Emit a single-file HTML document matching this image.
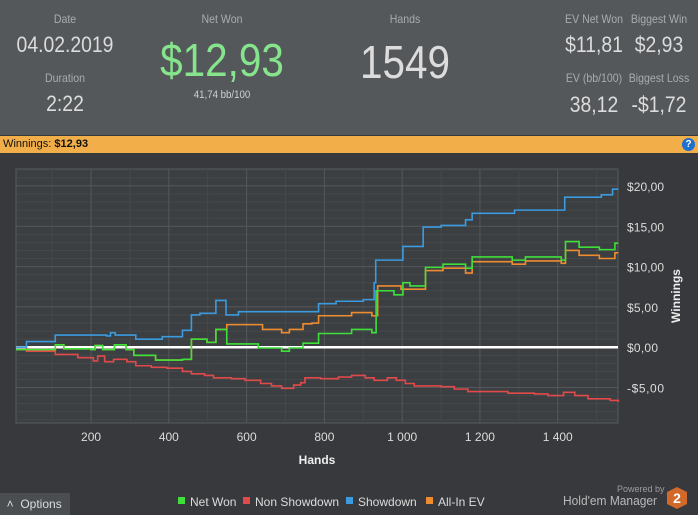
<!DOCTYPE html>
<html><head><meta charset="utf-8">
<style>
body{margin:0;width:698px;height:515px;overflow:hidden;background:#37393c;font-family:"Liberation Sans",sans-serif;position:relative}
.h{position:absolute;transform:translateX(-50%) scaleX(0.88);white-space:nowrap;text-align:center}
.lab{color:#a9abad;font-size:12px}
.val{color:#dcdcdc;font-size:22px}
</style></head><body>
<div style="position:absolute;left:0;top:0;width:698px;height:135px;background:#55585b"></div>
<div class="h lab" style="left:65px;top:12px">Date</div>
<div class="h val" style="left:65px;top:32px">04.02.2019</div>
<div class="h lab" style="left:65px;top:71px">Duration</div>
<div class="h val" style="left:65px;top:91px">2:22</div>
<div class="h lab" style="left:222px;top:12px">Net Won</div>
<div class="h" style="left:222px;top:33px;color:#86e48c;font-size:46px">$12,93</div>
<div class="h" style="left:222px;top:89px;color:#cfd0d1;font-size:11px">41,74 bb/100</div>
<div class="h lab" style="left:405px;top:12px">Hands</div>
<div class="h" style="left:405px;top:35px;color:#dcdcdc;font-size:46px">1549</div>
<div class="h lab" style="left:594px;top:12px">EV Net Won</div>
<div class="h val" style="left:594px;top:32px">$11,81</div>
<div class="h lab" style="left:659px;top:12px">Biggest Win</div>
<div class="h val" style="left:659px;top:32px">$2,93</div>
<div class="h lab" style="left:594px;top:71px">EV (bb/100)</div>
<div class="h val" style="left:594px;top:92px">38,12</div>
<div class="h lab" style="left:659px;top:71px">Biggest Loss</div>
<div class="h val" style="left:659px;top:92px">-$1,72</div>
<div style="position:absolute;left:0;top:136px;width:698px;height:17px;background:#f2ae48;font-size:11px;line-height:16px;color:#111">&nbsp;Winnings: <b>$12,93</b>
<div style="position:absolute;right:3px;top:2px;width:13px;height:13px;border-radius:50%;background:#1d6fd0;color:#fff;font-size:10px;line-height:13px;text-align:center;font-weight:bold">?</div></div>
<svg id="chart" width="698" height="515" style="position:absolute;left:0;top:0"></svg>
<div style="position:absolute;left:0;top:493px;width:70px;height:22px;background:#4b4e51;color:#dcdcdc;font-size:12px;line-height:22px">&nbsp;&nbsp;˄&nbsp;&nbsp;Options</div>
<div style="position:absolute;left:617px;top:484px;color:#9a9c9e;font-size:9px">Powered by</div>
<div style="position:absolute;left:563px;top:493px;color:#b8b9ba;font-size:13px;transform:scaleX(0.92);transform-origin:left">Hold'em Manager</div>
<svg width="22" height="24" style="position:absolute;left:666px;top:486px"><polygon points="11,1 21,6 21,18 11,23 1,18 1,6" fill="#d0692a"/><text x="11" y="17" fill="#fff" font-size="14" font-weight="bold" text-anchor="middle" font-family="Liberation Sans">2</text></svg>
<script>
const hands_sd=[7,34,108,240,250,262,315,383,435,458,480,521,547,579,785,830,900,928,932,1002,1054,1100,1163,1180,1289,1418,1512,1541,1556];
const val_sd=[0,0.7,1.5,1.4,1.8,1.5,1.0,1.3,2.1,4.0,4.2,5.8,4.0,4.4,5.4,5.7,5.9,8.0,10.8,12.5,14.9,15.1,15.8,16.6,17.0,18.6,18.9,19.6,19.6];
const hands_nw=[7,108,130,200,210,230,260,290,310,366,435,458,498,521,549,630,690,710,745,785,870,922,933,979,1002,1020,1060,1105,1163,1180,1283,1317,1409,1420,1455,1507,1547,1556];
const val_nw=[-0.3,0.3,-0.2,-0.3,0.2,-0.3,0.3,-0.3,-1.0,-1.6,-1.5,1.0,0.6,2.2,0.4,-0.1,-0.5,-0.1,0.5,1.7,2.2,1.8,7.0,6.5,8.0,7.6,9.9,10.3,9.8,11.2,10.8,11.2,10.8,13.1,12.4,12.1,12.9,12.9];
const hands_ev=[7,108,130,200,210,230,260,290,310,366,435,458,498,521,549,641,690,710,745,768,785,870,922,937,997,1060,1105,1163,1180,1283,1317,1409,1420,1455,1507,1547,1556];
const val_ev=[-0.3,0.3,-0.2,-0.3,0.2,-0.3,0.3,-0.3,-1.0,-1.6,-1.5,1.0,0.6,2.2,2.8,2.2,1.8,2.2,2.9,3.0,3.9,4.3,3.9,7.6,7.2,9.5,9.8,9.2,10.6,10.3,10.7,10.4,12.0,11.4,11.0,11.7,11.7];
const hands_ns=[7,34,108,166,206,217,235,258,292,315,355,395,435,458,492,515,561,596,636,664,690,721,739,750,790,836,870,905,928,962,985,1008,1031,1100,1134,1169,1226,1272,1340,1375,1415,1444,1478,1535,1556];
const val_ns=[0,-0.5,-0.9,-1.3,-1.7,-1.1,-1.8,-1.5,-1.8,-2.3,-2.5,-2.6,-3.0,-3.3,-3.5,-3.8,-3.9,-4.1,-4.5,-4.8,-5.1,-4.7,-4.4,-3.8,-3.9,-3.7,-3.5,-3.8,-4.1,-3.8,-4.1,-4.5,-4.8,-4.9,-5.2,-5.5,-5.5,-5.7,-5.8,-6.0,-5.6,-6.0,-6.4,-6.6,-6.8];
const xticks=[200,400,600,800,1000,1200,1400];
const xtickLabels=["200","400","600","800","1 000","1 200","1 400"];
const yticks=[-5,0,5,10,15,20];
const ytickLabels=["-$5,00","$0,00","$5,00","$10,00","$15,00","$20,00"];
const L=16,R=618,T=169,B=423,H0=7,H1=1555,V0=-9.4,V1=22.1;
const X=h=>L+(h-H0)/(H1-H0)*(R-L);
const Y=v=>B-(v-V0)/(V1-V0)*(B-T);
const svg=document.getElementById('chart');
const NS='http://www.w3.org/2000/svg';
function mk(t,a){const e=document.createElementNS(NS,t);for(const k in a)e.setAttribute(k,a[k]);svg.appendChild(e);return e;}
const bg=mk('rect',{x:L,y:T,width:R-L,height:B-T,fill:'#3c3f42',stroke:'#5a5d60'});


for(let h=100;h<H1;h+=100){if(h%200==0)continue;const l=mk('line',{x1:X(h),x2:X(h),y1:T,y2:B,stroke:'#45484b'});}
for(let v=-9;v<=22;v++){if(v%5==0)continue;const l=mk('line',{x1:L,x2:R,y1:Y(v),y2:Y(v),stroke:'#45484b'});}
xticks.forEach((t,i)=>{const l=mk('line',{x1:X(t),x2:X(t),y1:T,y2:B,stroke:'#55585b'});
const tx=mk('text',{x:X(t),y:441,fill:'#dcdcdc','font-size':12,'text-anchor':'middle'});tx.textContent=xtickLabels[i];});
yticks.forEach((t,i)=>{const l=mk('line',{x1:L,x2:R,y1:Y(t),y2:Y(t),stroke:'#55585b'});
const tx=mk('text',{x:627,y:Y(t)+5,fill:'#dcdcdc','font-size':12,textLength:(ytickLabels[i].length*6.2).toFixed(0)});tx.textContent=ytickLabels[i];});
const zl=mk('line',{x1:L,x2:R,y1:Y(0),y2:Y(0),stroke:'#fff','stroke-width':2.5});


function step(hs,vs){let d='M'+X(hs[0])+','+Y(vs[0]);for(let i=1;i<hs.length;i++){d+=' H'+X(hs[i])+' V'+Y(vs[i]);}return d;}
const series=[[hands_ns,val_ns,'#e04a4a','non-showdown-line'],[hands_sd,val_sd,'#3a9be0','showdown-line'],[hands_ev,val_ev,'#ee8c30','all-in-ev-line'],[hands_nw,val_nw,'#3ee03a','net-won-line']];
series.forEach(s=>{const p=mk('path',{d:step(s[0],s[1]),fill:'none',stroke:s[2],'stroke-width':1.6});});
const xt=mk('text',{x:317,y:464,fill:'#eee','font-size':12,'font-weight':'bold','text-anchor':'middle'});xt.textContent='Hands';


const yt=mk('text',{x:0,y:0,fill:'#eee','font-size':12,'font-weight':'bold','text-anchor':'middle',transform:'translate(680,296) rotate(-90)'});yt.textContent='Winnings';


const leg=[['Net Won','#3ee03a',178],['Non Showdown','#e04a4a',243],['Showdown','#3a9be0',346],['All-In EV','#ee8c30',426]];
leg.forEach(e=>{const r=mk('rect',{x:e[2],y:497,width:7,height:7,fill:e[1]});
const t=mk('text',{x:e[2]+12,y:506,fill:'#dcdcdc','font-size':12});t.textContent=e[0];});
</script>
</body></html>
